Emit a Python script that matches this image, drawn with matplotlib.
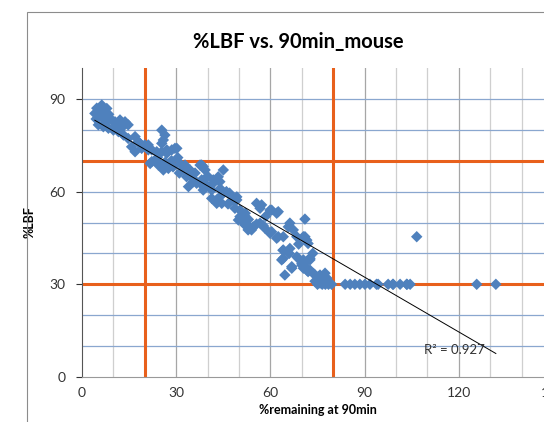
import numpy as np
import matplotlib
matplotlib.use("Agg")
from matplotlib import pyplot as plt
from matplotlib.patches import Rectangle

# %remaining at 90min vs %LBF
remaining = [
    4.5, 4.7, 5.5, 6.3, 6.8, 7.9, 8.5, 4.1, 6.3, 8.4, 5.2, 6.8, 8.4, 7.5, 9.5, 10.5,
    12.1, 13.7, 14.7, 11.0, 10.0, 11.6, 13.2, 14.7, 12.5, 16.9, 17.9, 15.8, 16.9, 18.5, 19.0,
    20.0, 21.1, 21.1, 22.2, 23.8, 25.4, 27.0, 28.6, 25.4, 26.4, 25.9, 25.4, 27.0, 22.2, 24.3,
    21.7, 23.8, 25.9, 27.5, 29.6, 30.2, 28.5, 29.0, 26.5, 24.0,
    31.2, 32.3, 32.8, 34.4, 37.6, 38.6, 39.2, 38.1, 45.0, 33.3, 35.5, 33.9, 33.9, 35.4, 36.5,
    38.6, 37.6, 41.8, 43.9, 38.1, 39.7, 41.3, 41.8, 43.4, 41.3, 42.9, 44.5, 44.0, 42.9, 31.0,
    30.5, 36.0, 40.0, 44.0, 46.0,
    47.7, 49.3, 48.2, 48.7, 50.3, 50.3, 49.8, 51.9, 53.5, 55.6, 57.7, 55.6, 56.7, 57.2, 49.3,
    51.3, 52.9, 54.0, 54.5, 56.7, 58.3, 59.9, 60.4, 62.0, 62.5, 46.5, 52.0, 53.0, 58.5, 47.0,
    60.4, 62.5, 59.9, 62.0, 64.1, 65.7, 66.2, 67.3, 68.4, 70.5, 71.0, 71.6, 72.0, 71.0, 64.0,
    64.1, 66.2, 63.6, 64.1, 66.8, 66.8, 64.6, 68.4, 68.9, 70.0, 70.0, 70.5, 72.0, 72.6, 72.6,
    71.0, 72.0, 71.6, 73.7, 70.5, 72.6, 74.2, 75.3, 75.8, 77.4, 78.0, 78.4, 75.8, 74.2, 76.5,
    66.0, 69.0, 73.5,
    75.0, 76.5, 77.5, 78.5, 79.5, 83.8, 85.4, 86.9, 88.5, 90.1, 91.7, 93.8, 94.3, 97.5, 99.0,
    99.1, 101.3, 103.4, 103.5, 104.5, 125.7, 131.8, 106.6,
]
lbf = [
    83.5, 87.0, 85.5, 88.0, 86.0, 86.9, 85.0, 85.3, 84.2, 84.2, 81.6, 81.0, 80.5, 82.5, 83.0, 82.6,
    83.2, 82.6, 81.6, 81.5, 79.9, 79.4, 78.3, 77.2, 80.5, 77.8, 76.1, 74.5, 72.9, 75.6, 74.0,
    75.1, 73.5, 75.1, 73.5, 72.9, 72.9, 72.4, 73.5, 79.9, 78.3, 76.7, 75.6, 73.5, 69.7, 68.6,
    69.1, 70.0, 67.0, 67.5, 74.0, 74.0, 70.0, 68.0, 69.5, 71.0,
    69.1, 67.5, 68.6, 67.0, 68.6, 68.1, 67.0, 68.6, 67.0, 64.8, 63.2, 61.6, 65.4, 64.2, 62.7,
    60.5, 62.7, 62.7, 63.2, 63.8, 62.1, 60.5, 63.8, 64.8, 57.8, 57.3, 56.2, 58.4, 56.2, 66.0,
    71.0, 66.0, 65.0, 61.0, 60.0,
    58.4, 57.3, 57.3, 54.6, 51.9, 54.0, 50.8, 49.2, 48.5, 49.5, 49.0, 56.2, 54.6, 55.7, 58.3,
    50.3, 47.6, 47.6, 48.6, 49.8, 48.1, 54.0, 54.0, 53.0, 53.5, 56.0, 53.0, 51.0, 52.0, 59.5,
    47.0, 45.4, 46.5, 44.9, 45.4, 48.6, 49.8, 47.6, 45.4, 45.4, 45.4, 44.3, 43.2, 51.1, 41.0,
    41.1, 41.6, 37.9, 38.4, 35.2, 35.7, 33.0, 38.9, 38.4, 36.2, 36.8, 37.9, 37.9, 37.9, 38.4,
    35.7, 34.1, 34.6, 33.5, 35.2, 34.6, 33.0, 32.5, 33.0, 33.6, 32.0, 30.8, 30.4, 31.0, 31.5,
    40.0, 43.0, 40.0,
    30, 30, 30, 30, 30, 30, 30, 30, 30, 30, 30, 30, 30, 30, 30,
    30, 30, 30, 30, 30, 30, 30, 45.4,
]
cutoff_x = [20, 80]
cutoff_y = [30, 70]
# linear trendline as shown in the chart
trend_slope = -0.591
trend_intercept = 85.5
r2_label = "R\u00b2 = 0.927"

x = np.array(remaining)
y = np.array(lbf)

plt.rcParams['font.family'] = ['Lato', 'DejaVu Sans']

fig = plt.figure(figsize=(5.44, 4.22), dpi=100)
# grey chart frame, partly cut off like the screenshot
fig.patches.append(Rectangle((27/544, -0.1), 1.0, 1 - 12/422 + 0.1, transform=fig.transFigure,
                             fill=False, edgecolor='#8c8c8c', linewidth=0.8))

ax = fig.add_axes([82/544, 45/422, 471/544, 309/422])
ax.set_xlim(0, 150)
ax.set_ylim(0, 100)

# grid
for v in range(10, 150, 10):
    ax.axvline(v, color='#a6a6a6' if v % 30 == 0 else '#cfcfcf', lw=0.9, zorder=0)
for v in range(10, 100, 10):
    ax.axhline(v, color='#8aa7cf', lw=0.9, zorder=0)

for v in cutoff_x:
    ax.axvline(v, color='#e8601c', lw=2.2, zorder=1)
for v in cutoff_y:
    ax.axhline(v, color='#e8601c', lw=2.2, zorder=1)

ax.scatter(x, y, marker='D', s=34, color='#4f81bd', edgecolors='none', zorder=2)

xs = np.array([x.min(), x.max()])
ax.plot(xs, trend_slope * xs + trend_intercept, color='black', lw=0.7, zorder=3)
ax.text(109, 7.5, r2_label, fontsize=9.5, color='#333333', zorder=4)

ax.set_xticks(range(0, 151, 30))
ax.set_yticks(range(0, 91, 30))
ax.tick_params(axis='x', length=0, pad=7, labelsize=10, colors='#333333')
ax.tick_params(axis='y', length=4, pad=8, labelsize=10, colors='#333333')
for s in ['top', 'right']:
    ax.spines[s].set_visible(False)
ax.spines['left'].set_color('#555555')
ax.spines['bottom'].set_color('#999999')

ax.set_xlabel('%remaining at 90min', fontsize=9, fontweight='bold', labelpad=4)
ax.set_ylabel('%LBF', fontsize=9, fontweight='bold', labelpad=10)
fig.text(298/544, 1 - 42/422, '%LBF vs. 90min_mouse', fontsize=14.5, fontweight='bold',
         ha='center', va='center')

fig.savefig('out.png', dpi=100)
